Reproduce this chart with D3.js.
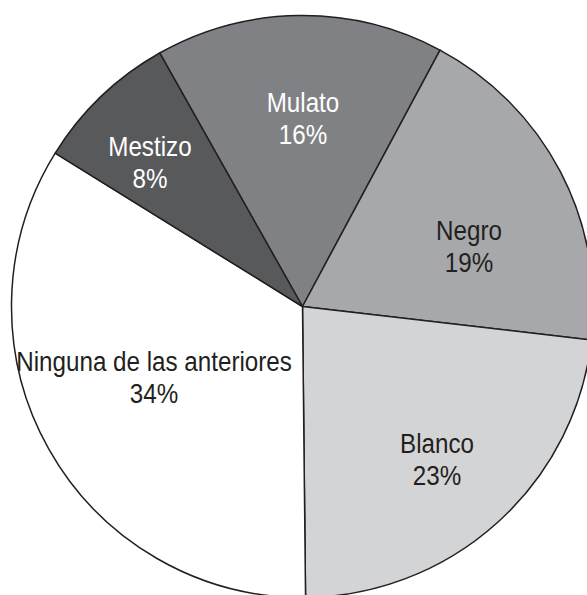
<!DOCTYPE html>
<html><head><meta charset="utf-8">
<script src="https://cdn.jsdelivr.net/npm/d3@7"></script>
<style>
html,body{margin:0;padding:0;background:#fff;}
svg{display:block;}
text{font-family:"Liberation Sans",Arial,sans-serif;font-weight:400;}
</style></head>
<body>
<svg id="chart" width="587" height="595"></svg>
<script>
const categories = ["Mulato", "Negro", "Blanco", "Ninguna de las anteriores", "Mestizo"];
const values = [16, 19, 23, 34, 8];
const colors = ["#808184", "#a7a8ab", "#d3d4d6", "#ffffff", "#58595b"];
const textColors = ["#ffffff", "#231f20", "#231f20", "#231f20", "#ffffff"];
// label placement: [angle offset (deg) from slice centre, radius fraction]
const labelPlacement = [[0.76, 0.615], [10.7, 0.598], [2.3, 0.724], [0.8, 0.581], [-4.9, 0.698]];

const W = 587, H = 595;
const cx = 302.5, cy = 306.5, R = 291;
const startDeg = -29.4;

const svg = d3.select("#chart");
const g = svg.append("g").attr("transform", `translate(${cx},${cy})`);

const pie = d3.pie().sort(null)
  .startAngle(startDeg * Math.PI / 180)
  .endAngle((startDeg + 360) * Math.PI / 180);
const arcs = pie(values);
const arc = d3.arc().innerRadius(0).outerRadius(R);

g.selectAll("path.slice").data(arcs).enter().append("path")
  .attr("class", "slice")
  .attr("d", arc)
  .attr("fill", (d, i) => colors[i])
  .attr("stroke", "#231f20")
  .attr("stroke-width", 1.5)
  .attr("stroke-linejoin", "round");

const fs = 27.5, sx = 0.88, gap = 32;
const lab = g.selectAll("g.lab").data(arcs).enter().append("g")
  .attr("class", "lab")
  .attr("transform", (d, i) => {
    const a = (d.startAngle + d.endAngle) / 2 + labelPlacement[i][0] * Math.PI / 180;
    const r = R * labelPlacement[i][1];
    return `translate(${r * Math.sin(a)},${-r * Math.cos(a)}) scale(${sx},1)`;
  });
lab.append("text")
  .attr("text-anchor", "middle")
  .attr("y", -gap / 2)
  .attr("font-size", fs)
  .attr("fill", (d, i) => textColors[i])
  .text((d, i) => categories[i]);
lab.append("text")
  .attr("text-anchor", "middle")
  .attr("y", gap / 2)
  .attr("font-size", fs)
  .attr("fill", (d, i) => textColors[i])
  .text((d, i) => values[i] + "%");
</script>
</body></html>
